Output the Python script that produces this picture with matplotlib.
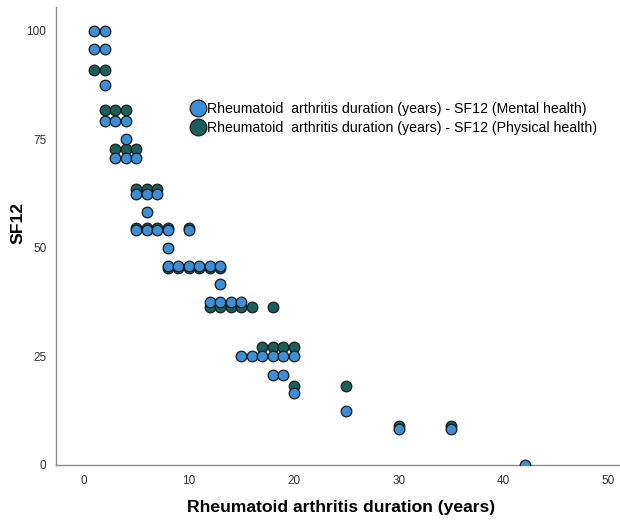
import matplotlib
matplotlib.use("Agg")
import matplotlib.pyplot as plt
from matplotlib.lines import Line2D

plt.rcParams['font.family'] = ['Liberation Sans', 'DejaVu Sans']

# Mental health (blue)
mental_x = [1, 2, 1, 2, 2, 2, 3, 4, 4, 3, 4, 5, 5, 6, 7, 6, 5, 6, 7, 8, 10, 8,
            8, 9, 10, 11, 12, 13, 13, 12, 13, 14, 15,
            15, 16, 17, 18, 19, 20, 18, 19, 20, 25, 30, 35, 42]
mental_y = [100, 100, 95.83, 95.83, 87.5, 79.17, 79.17, 79.17, 75, 70.83, 70.83, 70.83,
            62.5, 62.5, 62.5, 58.33, 54.17, 54.17, 54.17, 54.17, 54.17, 50,
            45.83, 45.83, 45.83, 45.83, 45.83, 45.83, 41.67, 37.5, 37.5, 37.5, 37.5,
            25, 25, 25, 25, 25, 25, 20.83, 20.83, 16.67, 12.5, 8.33, 8.33, 0]

# Physical health (dark teal)
physical_x = [1, 2, 2, 3, 4, 3, 4, 5, 5, 6, 7, 5, 6, 7, 8, 10,
              8, 9, 10, 11, 12, 13, 12, 13, 14, 15, 16, 18,
              17, 18, 19, 20, 20, 25, 30, 35]
physical_y = [90.91, 90.91, 81.82, 81.82, 81.82, 72.73, 72.73, 72.73,
              63.64, 63.64, 63.64, 54.55, 54.55, 54.55, 54.55, 54.55,
              45.45, 45.45, 45.45, 45.45, 45.45, 45.45,
              36.36, 36.36, 36.36, 36.36, 36.36, 36.36,
              27.27, 27.27, 27.27, 27.27, 18.18, 18.18, 9.09, 9.09]

x_ticks = [0, 10, 20, 30, 40, 50]
y_ticks = [0, 25, 50, 75, 100]

labels = ["Rheumatoid  arthritis duration (years) - SF12 (Mental health)",
          "Rheumatoid  arthritis duration (years) - SF12 (Physical health)"]
blue = "#3a8fd8"
green = "#19605a"
edge = "#1a1a1a"

fig = plt.figure(figsize=(6.2, 5.2), dpi=100)
ax = fig.add_axes([0.0903, 0.1058, 0.9080, 0.8807])

ax.scatter(physical_x, physical_y, s=58, c=green, edgecolors=edge, linewidths=0.9, zorder=2)
ax.scatter(mental_x, mental_y, s=58, c=blue, edgecolors=edge, linewidths=0.9, zorder=3)

ax.set_xlim(-2.67, 51.0)
ax.set_ylim(0, 105.5)
ax.set_xticks(x_ticks)
ax.set_yticks(y_ticks)
ax.tick_params(length=0, labelsize=8.5, colors="#333333", pad=7)
for s in ["top", "right"]:
    ax.spines[s].set_visible(False)
for s in ["left", "bottom"]:
    ax.spines[s].set_color("#8a8a8a")
    ax.spines[s].set_linewidth(1.0)

ax.set_xlabel("Rheumatoid arthritis duration (years)", fontsize=12.6, fontweight="bold")
ax.set_ylabel("SF12", fontsize=12.6, fontweight="bold")
ax.xaxis.set_label_coords(0.506, -0.092, transform=ax.transAxes)
ax.yaxis.set_label_coords(-0.0675, 0.528, transform=ax.transAxes)
ax.xaxis.label.set_va("center")
ax.yaxis.label.set_va("center")

handles = [Line2D([], [], linestyle="none", marker="o", markersize=12,
                  markerfacecolor=blue, markeredgecolor=edge, markeredgewidth=0.9),
           Line2D([], [], linestyle="none", marker="o", markersize=12,
                  markerfacecolor=green, markeredgecolor=edge, markeredgewidth=0.9)]
ax.legend(handles, labels, loc="upper left", bbox_to_anchor=(0.240, 0.792),
          frameon=False, fontsize=10.2, handletextpad=0.12, labelspacing=0.35,
          borderaxespad=0, handlelength=1.0, borderpad=0)

fig.savefig("out.png", dpi=100)
